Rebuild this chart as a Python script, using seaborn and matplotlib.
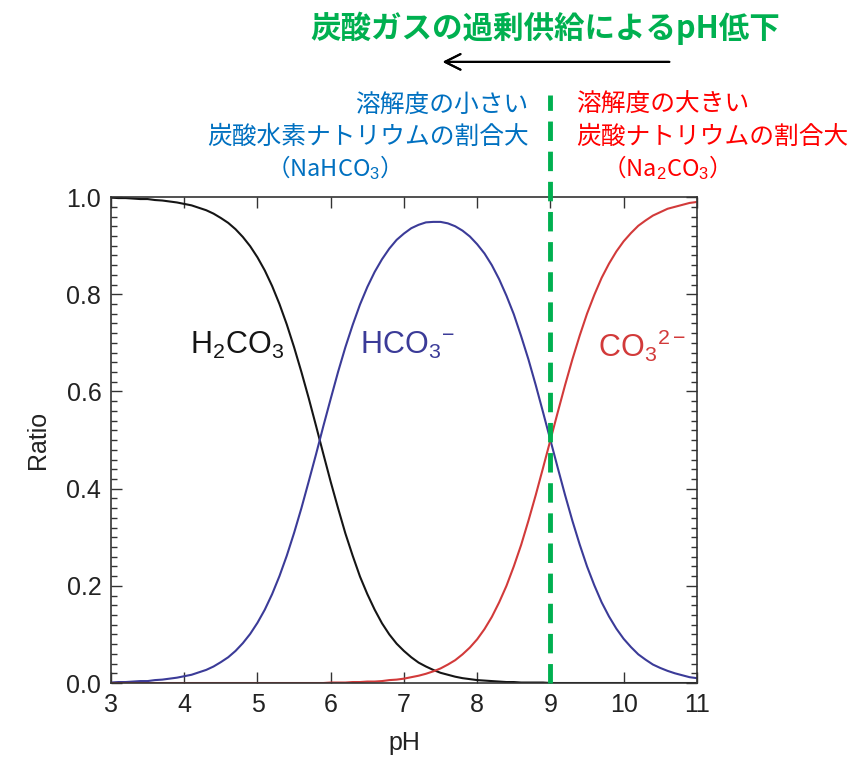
import seaborn as sns
import matplotlib.pyplot as plt
import matplotlib.ticker as mticker
import pandas as pd

# pH grid and species fractions
ph = [3.0, 3.1, 3.2, 3.3, 3.4, 3.5, 3.6, 3.7, 3.8, 3.9,
      4.0, 4.1, 4.2, 4.3, 4.4, 4.5, 4.6, 4.7, 4.8, 4.9,
      5.0, 5.1, 5.2, 5.3, 5.4, 5.5, 5.6, 5.7, 5.8, 5.9,
      6.0, 6.1, 6.2, 6.3, 6.4, 6.5, 6.6, 6.7, 6.8, 6.9,
      7.0, 7.1, 7.2, 7.3, 7.4, 7.5, 7.6, 7.7, 7.8, 7.9,
      8.0, 8.1, 8.2, 8.3, 8.4, 8.5, 8.6, 8.7, 8.8, 8.9,
      9.0, 9.1, 9.2, 9.3, 9.4, 9.5, 9.6, 9.7, 9.8, 9.9,
      10.0, 10.1, 10.2, 10.3, 10.4, 10.5, 10.6, 10.7, 10.8, 10.9,
      11.0]
h2co3 = [0.999, 0.998, 0.998, 0.997, 0.996, 0.996, 0.994, 0.993, 0.991, 0.989,
         0.986, 0.983, 0.978, 0.973, 0.966, 0.957, 0.947, 0.934, 0.918, 0.899,
         0.876, 0.849, 0.817, 0.780, 0.738, 0.691, 0.640, 0.586, 0.529, 0.471,
         0.414, 0.360, 0.308, 0.262, 0.219, 0.183, 0.151, 0.123, 0.100, 0.081,
         0.066, 0.053, 0.042, 0.034, 0.027, 0.021, 0.017, 0.013, 0.010, 0.008,
         0.006, 0.005, 0.004, 0.003, 0.002, 0.002, 0.001, 0.001, 0.001, 0.001,
         0.000, 0.000, 0.000, 0.000, 0.000, 0.000, 0.000, 0.000, 0.000, 0.000,
         0.000, 0.000, 0.000, 0.000, 0.000, 0.000, 0.000, 0.000, 0.000, 0.000,
         0.000]
hco3 = [0.001, 0.002, 0.002, 0.003, 0.004, 0.004, 0.006, 0.007, 0.009, 0.011,
        0.014, 0.017, 0.022, 0.027, 0.034, 0.043, 0.053, 0.066, 0.082, 0.101,
        0.124, 0.151, 0.183, 0.220, 0.262, 0.309, 0.360, 0.415, 0.471, 0.529,
        0.585, 0.640, 0.691, 0.737, 0.779, 0.815, 0.846, 0.872, 0.894, 0.912,
        0.925, 0.936, 0.943, 0.948, 0.949, 0.949, 0.946, 0.940, 0.931, 0.919,
        0.903, 0.884, 0.860, 0.831, 0.797, 0.759, 0.714, 0.666, 0.613, 0.557,
        0.500, 0.443, 0.387, 0.334, 0.285, 0.240, 0.201, 0.166, 0.137, 0.112,
        0.091, 0.074, 0.059, 0.048, 0.038, 0.031, 0.025, 0.020, 0.016, 0.012,
        0.010]
co3 = [0.000, 0.000, 0.000, 0.000, 0.000, 0.000, 0.000, 0.000, 0.000, 0.000,
       0.000, 0.000, 0.000, 0.000, 0.000, 0.000, 0.000, 0.000, 0.000, 0.000,
       0.000, 0.000, 0.000, 0.000, 0.000, 0.000, 0.000, 0.000, 0.000, 0.000,
       0.001, 0.001, 0.001, 0.002, 0.002, 0.003, 0.003, 0.004, 0.006, 0.007,
       0.009, 0.012, 0.015, 0.019, 0.024, 0.030, 0.038, 0.047, 0.059, 0.073,
       0.090, 0.111, 0.136, 0.166, 0.200, 0.240, 0.284, 0.334, 0.387, 0.443,
       0.500, 0.557, 0.613, 0.666, 0.715, 0.760, 0.799, 0.834, 0.863, 0.888,
       0.909, 0.926, 0.941, 0.952, 0.962, 0.969, 0.976, 0.980, 0.984, 0.988,
       0.990]

species = ["H2CO3", "HCO3-", "CO32-"]
species_labels = ["H$_2$CO$_3$", "HCO$_3$$^{-}$", "CO$_3$$^{2-}$"]
label_pos = [(4.08, 0.695), (6.40, 0.695), (9.65, 0.695)]
colors = {"H2CO3": "#151515", "HCO3-": "#3b3b98", "CO32-": "#d23a3a"}
boundary_ph = 9.0

df = pd.DataFrame({
    "pH": ph * 3,
    "Ratio": h2co3 + hco3 + co3,
    "species": [s for s in species for _ in ph],
})

sns.set_style("ticks")
plt.rcParams["font.family"] = ["Liberation Sans", "DejaVu Sans"]
plt.rcParams["mathtext.fontset"] = "custom"
plt.rcParams["mathtext.rm"] = "Liberation Sans"
plt.rcParams["mathtext.it"] = "Liberation Sans"

fig = plt.figure(figsize=(8.54, 7.64), dpi=100)
ax = fig.add_axes([0.130, 0.106, 0.686, 0.636])

sns.lineplot(data=df, x="pH", y="Ratio", hue="species", palette=colors,
             linewidth=1.5, legend=False, ax=ax)

ax.set_xlim(3, 11)
ax.set_ylim(0, 1)
ax.xaxis.set_major_locator(mticker.MultipleLocator(1))
ax.yaxis.set_major_locator(mticker.MultipleLocator(0.2))
ax.yaxis.set_minor_locator(mticker.MultipleLocator(0.02))
ax.yaxis.set_major_formatter(mticker.FormatStrFormatter("%.1f"))
ax.tick_params(which="both", direction="in", top=True, right=True,
               labelsize=18, width=1.0, colors="#333333", labelcolor="#222222")
ax.tick_params(which="major", length=8, pad=7)
ax.tick_params(which="minor", length=4)
for sp in ax.spines.values():
    sp.set_linewidth(1.2)
    sp.set_color("#333333")
ax.set_xlabel("pH", fontsize=18, labelpad=10, color="#222222")
ax.set_ylabel("Ratio", fontsize=18, labelpad=12, color="#222222")

for s, lab, (x, y) in zip(species, species_labels, label_pos):
    ax.text(x, y, lab, color=colors[s], fontsize=22, va="center", ha="left")

# boundary at pH 9, extending above the axes
ax.plot([boundary_ph, boundary_ph], [0, 1.21], color="#00b050", lw=3.5,
        ls=(0, (4, 2.2)), clip_on=False, zorder=5)

jp = ["Noto Sans CJK JP", "DejaVu Sans"]
fig.text(0.638, 0.963, "炭酸ガスの過剰供給によるpH低下", family=jp, fontsize=22,
         fontweight="bold", color="#00b050", ha="center", va="center")
fig.add_artist(plt.annotate("", xy=(0.515, 0.919), xytext=(0.787, 0.919),
                            xycoords="figure fraction",
                            arrowprops=dict(arrowstyle="->", lw=1.5, color="black",
                                            mutation_scale=28)))

blue = "#0070c0"
red = "#ff0000"
fig.text(0.619, 0.863, "溶解度の小さい", family=jp, fontsize=17.8, color=blue,
         ha="right", va="center")
fig.text(0.619, 0.821, "炭酸水素ナトリウムの割合大", family=jp, fontsize=17.8, color=blue,
         ha="right", va="center")
fig.text(0.383, 0.781, "（NaHCO$_3$）", family=jp, fontsize=17, color=blue,
         ha="center", va="center")
fig.text(0.675, 0.863, "溶解度の大きい", family=jp, fontsize=17.8, color=red,
         ha="left", va="center")
fig.text(0.675, 0.821, "炭酸ナトリウムの割合大", family=jp, fontsize=17.8, color=red,
         ha="left", va="center")
fig.text(0.773, 0.781, "（Na$_2$CO$_3$）", family=jp, fontsize=17, color=red,
         ha="center", va="center")

fig.savefig("out.png", dpi=100)
